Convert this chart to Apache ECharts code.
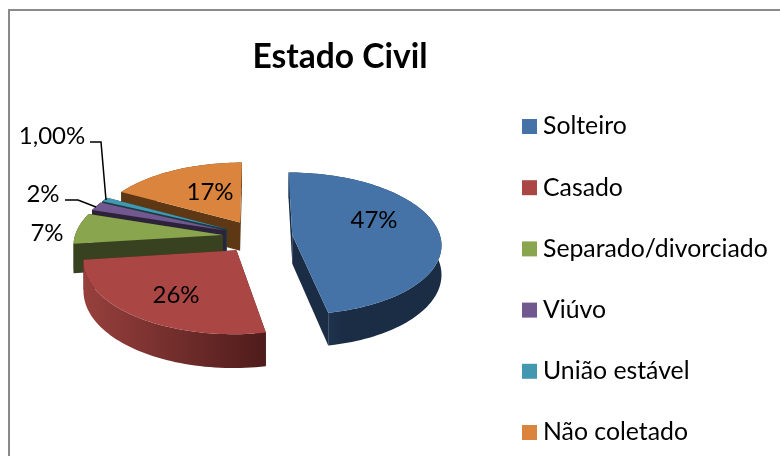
<!DOCTYPE html>
<html><head><meta charset="utf-8">
<style>html,body{margin:0;padding:0;background:#fff}#c{width:780px;height:456px}</style>
<script src="https://cdn.jsdelivr.net/npm/echarts@6/dist/echarts.min.js"></script>
</head><body><div id="c"></div>
<script>
var categories = ['Solteiro','Casado','Separado/divorciado','Viúvo','União estável','Não coletado'];
var values = [47,26,7,2,1,17];
var valueLabels = ['47%','26%','7%','2%','1,00%','17%'];
var topColors = ['#4573A7','#AA4643','#89A54E','#71588F','#4198AF','#DB843D'];
var wallDark = ['#1B2D45','#4E1C1B','#394220','#2C2239','#1A3C46','#5E3714'];
var wallLight = ['#243C5B','#97403D','#394220','#2C2239','#1A3C46','#5E3714'];
// Back-to-front paint order (index into categories)
var paintOrder = [5,4,3,2,0,1];
// Label layout, px
var labelPos = [[374,220],[176,295],[47,233],[43,194],[52,136],[210,192]];
var leaders = {3:[[65,200],[78,200],[96,207]], 4:[[90,142],[101,142],[106,200]]};

var FONT = 'Lato';
var P = {cx:257.5, cy:236.5, R:148, off:35, k:0.12, f:0.475, depth:29};
var total = values.reduce(function(a,b){return a+b;},0);

function proj(u,v,h){
  var s = 1/(1 - P.k*v/P.R);
  return [P.cx + u*s, P.cy + (P.f*v + h)*s];
}
function renderSlice(idx){
  return function(params, api){
    var before = 0;
    for (var i=0;i<idx;i++) before += values[i];
    var a0 = before/total*2*Math.PI, a1 = (before+values[idx])/total*2*Math.PI, mid=(a0+a1)/2;
    var ou = P.off*Math.sin(mid), ov = -P.off*Math.cos(mid);
    var pt = function(a,r,h){return proj(ou + r*Math.sin(a), ov - r*Math.cos(a), h);};
    var n = Math.max(6, Math.ceil((a1-a0)/0.03));
    var topPts=[pt(a0,0,0)], arcTop=[], arcBot=[];
    for (var j=0;j<=n;j++){
      var a=a0+(a1-a0)*j/n;
      arcTop.push(pt(a,P.R,0)); arcBot.push(pt(a,P.R,P.depth));
    }
    topPts = topPts.concat(arcTop);
    var dark=wallDark[idx], light=wallLight[idx];
    var xs=arcTop.map(function(p){return p[0];});
    var minX=Math.min.apply(null,xs), maxX=Math.max.apply(null,xs);
    var grad={type:'linear',global:true,x:minX,y:0,x2:maxX,y2:0,
      colorStops:[{offset:0,color:light},{offset:1,color:dark}]};
    if (idx===0) grad={type:'linear',global:true,x:maxX,y:0,x2:minX+20,y2:0,colorStops:[{offset:0,color:dark},{offset:0.75,color:dark},{offset:1,color:light}]};
    var face=function(a){return [pt(a,0,0),pt(a,P.R,0),pt(a,P.R,P.depth),pt(a,0,P.depth)];};
    var kids=[
      {type:'polygon',shape:{points:face(a0)},style:{fill:dark}},
      {type:'polygon',shape:{points:face(a1)},style:{fill:dark}},
      {type:'polygon',shape:{points:arcTop.concat(arcBot.slice().reverse())},style:{fill:grad}},
      {type:'polygon',shape:{points:topPts},style:{fill:topColors[idx]}}
    ];
    return {type:'group',children:kids};
  };
}
var series = paintOrder.map(function(idx){
  return {type:'custom',name:categories[idx],coordinateSystem:'none',silent:true,
    data:[values[idx]],itemStyle:{color:topColors[idx]},renderItem:renderSlice(idx),z:2};
});
// Labels and leader lines on top of the pie
var overlay=[];
valueLabels.forEach(function(t,i){
  overlay.push({type:'text',silent:true,z:10,style:{text:t,x:labelPos[i][0],y:labelPos[i][1],align:'center',verticalAlign:'middle',
    font:'24px '+FONT,fill:'#000'}});
});
Object.keys(leaders).forEach(function(k){
  overlay.push({type:'polyline',silent:true,z:10,shape:{points:leaders[k]},style:{stroke:'#000',lineWidth:1.5,fill:null}});
});
// Chart frame
overlay.push({type:'polyline',silent:true,z:1,shape:{points:[[9,470],[9,10],[790,10]]},style:{stroke:'#8a8a8a',lineWidth:2,fill:null}});

var chart = echarts.init(document.getElementById('c'),null,{renderer:'canvas'});
chart.setOption({
  animation:false,backgroundColor:'#fff',
  title:{text:'Estado Civil',left:335,top:35,textAlign:'center',textStyle:{fontFamily:FONT,fontWeight:'bold',fontSize:33.6,color:'#000'}},
  legend:{orient:'vertical',left:517,top:109,icon:'rect',itemWidth:15,itemHeight:15,itemGap:36.2,selectedMode:false,
    data:categories,textStyle:{fontFamily:FONT,fontSize:24.8,lineHeight:24,color:'#000',padding:[0,0,0,1]}},
  graphic:overlay,
  series:series
});
</script></body></html>
